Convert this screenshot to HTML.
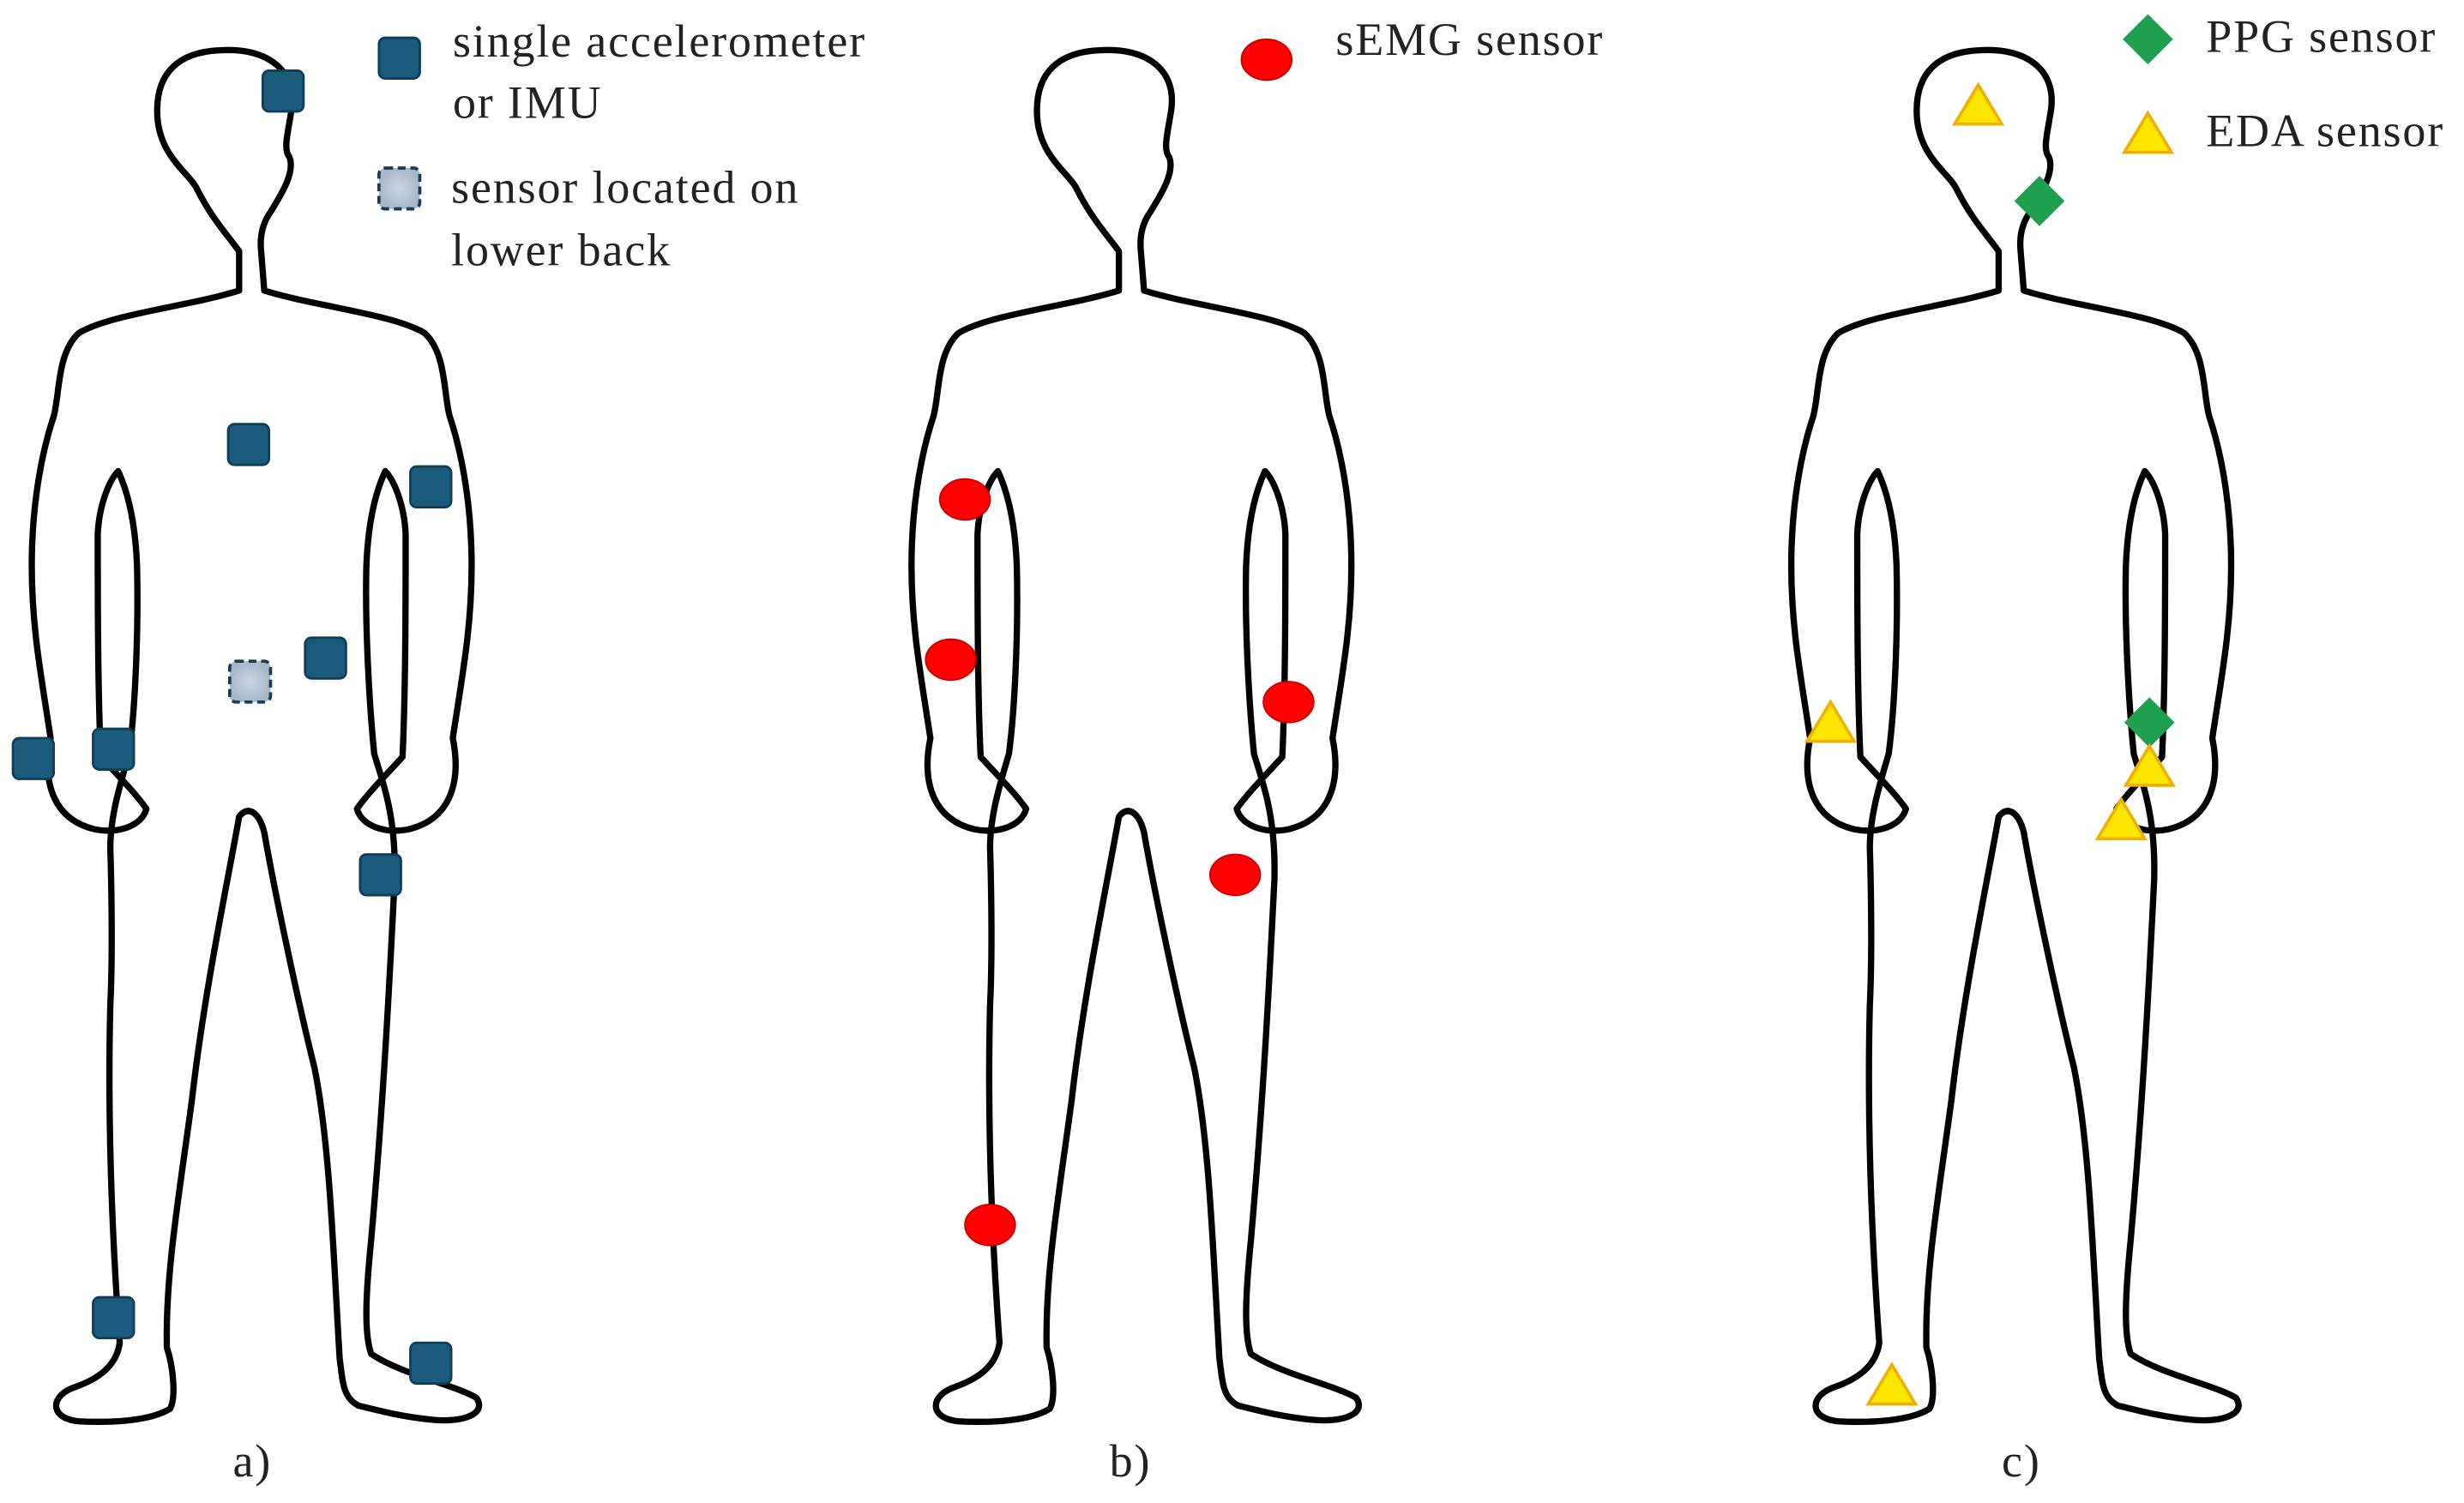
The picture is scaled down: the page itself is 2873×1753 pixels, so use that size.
<!DOCTYPE html>
<html><head><meta charset="utf-8"><style>
html,body{margin:0;padding:0;background:#fff;}
svg{display:block;}
text{font-family:"Liberation Serif",serif;font-size:29.5px;letter-spacing:1px;fill:#222;}
</style></head><body>
<svg width="2873" height="1753" viewBox="0 0 1568 957" xmlns="http://www.w3.org/2000/svg">
<defs>
<path id="body" fill="none" stroke="#000" stroke-width="4" stroke-linejoin="round" d="
M140,32 C170,30 190,45 185,72 C183,85 180,95 184,100 C188,110 178,125 172,135 C167,142 165,150 166,160 L168,185
C200,195 250,200 270,212 C284,225 282,250 286,265 C296,295 300,330 300,360 C300,400 294,430 288,470
C294,500 285,522 260,528 C245,531 230,526 227,515 C234,505 245,494 256,482
C258,440 258,380 258,340 C257,320 250,305 245,300 C238,315 234,335 233,360 C232,400 235,450 238,480
C244,500 252,520 251,560 C248,620 244,700 236,790 C232,830 232,850 236,862
C255,875 290,882 303,890 C310,900 295,906 275,904 C255,902 240,898 228,895 C218,890 218,880 216,865
C212,800 210,730 200,680 C190,640 175,570 168,530 C165,518 158,512 152,520
C145,560 130,630 122,700 C114,760 105,810 106,858 C110,870 112,890 108,897 C95,905 70,906 50,905
C30,903 32,888 48,883 C62,878 74,870 76,855
C72,800 68,720 70,640 C72,600 70,540 70,540 C70,520 76,500 82,480
C86,450 88,400 87,360 C86,335 82,315 75,300 C70,305 63,320 62,340 C62,380 62,440 64,482
C75,494 86,505 93,515 C90,526 75,531 60,528 C35,522 26,500 32,470
C26,430 20,400 20,360 C20,330 24,295 34,265 C38,250 36,225 50,212
C70,200 120,195 152,185 L152,160 C145,150 135,140 125,120 C120,110 102,100 100,75 C98,45 115,33 140,32 Z"/>
<g id="sq"><rect x="-13" y="-13" width="26" height="26" rx="4" fill="#1a5a7a" stroke="#0f3d55" stroke-width="1.5"/></g>
<g id="circ"><ellipse cx="0" cy="0" rx="16" ry="13" fill="#ff0000" stroke="#cc0000" stroke-width="1"/></g>
<g id="dia"><polygon points="0,-16 16,0 0,16 -16,0" fill="#1ea04f"/></g>
<g id="tri"><polygon points="0,-13 15,12 -15,12" fill="#ffe600" stroke="#f0b000" stroke-width="2"/></g>
<radialGradient id="gr"><stop offset="0" stop-color="#c8d6e4"/><stop offset="1" stop-color="#a8b8c8"/></radialGradient>
</defs>

<use href="#body"/>
<use href="#body" x="560"/>
<use href="#body" x="1120"/>

<!-- a -->
<use href="#sq" x="180" y="58"/>
<use href="#sq" x="158" y="283"/>
<use href="#sq" x="274" y="310"/>
<use href="#sq" x="207" y="419"/>
<use href="#sq" x="21" y="483"/>
<use href="#sq" x="72" y="477"/>
<use href="#sq" x="242" y="557"/>
<use href="#sq" x="72" y="839"/>
<use href="#sq" x="274" y="868"/>
<rect x="146" y="421" width="26" height="26" rx="4" fill="url(#gr)" stroke="#1a3a55" stroke-width="2" stroke-dasharray="5,3"/>
<use href="#sq" x="254" y="37"/>
<rect x="241" y="107" width="26" height="26" rx="4" fill="url(#gr)" stroke="#1a3a55" stroke-width="2" stroke-dasharray="5,3"/>
<text x="288" y="36">single accelerometer</text>
<text x="288" y="75">or IMU</text>
<text x="287" y="129">sensor located on</text>
<text x="287" y="169">lower back</text>
<text x="148" y="940">a)</text>

<!-- b -->
<use href="#circ" x="614" y="318"/>
<use href="#circ" x="605" y="420"/>
<use href="#circ" x="820" y="447"/>
<use href="#circ" x="786" y="557"/>
<use href="#circ" x="630" y="780"/>
<use href="#circ" x="806" y="38"/>
<text x="850" y="35">sEMG sensor</text>
<text x="706" y="940">b)</text>

<!-- c -->
<use href="#dia" x="1298" y="128"/>
<use href="#dia" x="1368" y="460"/>
<use href="#dia" x="1367" y="25"/>
<use href="#tri" x="1259" y="67"/>
<use href="#tri" x="1165" y="460"/>
<use href="#tri" x="1368" y="488"/>
<use href="#tri" x="1350" y="522"/>
<use href="#tri" x="1204" y="882"/>
<use href="#tri" x="1367" y="85"/>
<text x="1404" y="33">PPG sensor</text>
<text x="1404" y="93">EDA sensor</text>
<text x="1274" y="940">c)</text>
</svg>
</body></html>
